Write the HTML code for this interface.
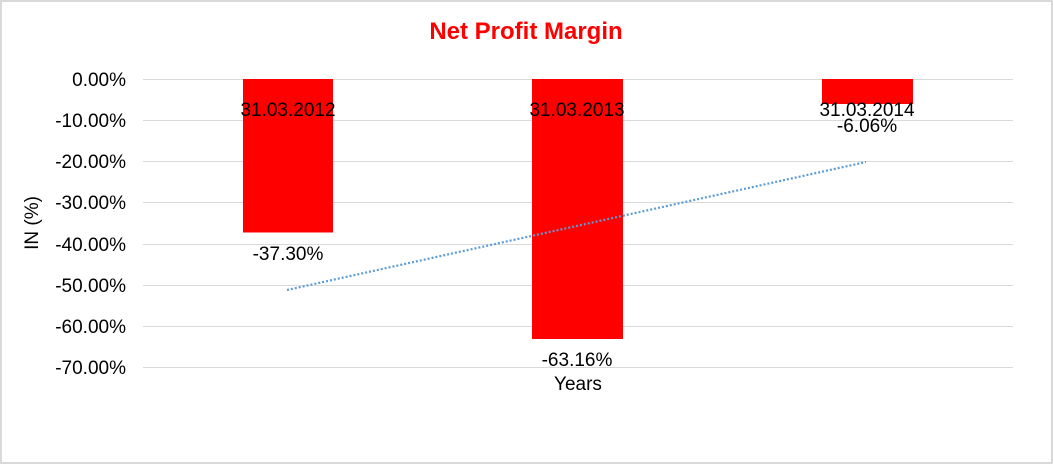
<!DOCTYPE html>
<html><head><style>
body{margin:0;background:#fff;}
svg text{font-family:"Liberation Sans",Arial,sans-serif;}
</style></head><body>
<svg width="1053" height="464" viewBox="0 0 1053 464" xmlns="http://www.w3.org/2000/svg">
<rect x="1" y="1" width="1051" height="462" fill="#fff" stroke="#d9d9d9" stroke-width="2"/>
<text x="526" y="39" text-anchor="middle" font-size="24" font-weight="bold" fill="#ff0000">Net Profit Margin</text>
<g stroke="#d9d9d9" stroke-width="1">
<line x1="143" x2="1013" y1="79.5" y2="79.5"/>
<line x1="143" x2="1013" y1="120.5" y2="120.5"/>
<line x1="143" x2="1013" y1="161.5" y2="161.5"/>
<line x1="143" x2="1013" y1="202.5" y2="202.5"/>
<line x1="143" x2="1013" y1="244.5" y2="244.5"/>
<line x1="143" x2="1013" y1="285.5" y2="285.5"/>
<line x1="143" x2="1013" y1="326.5" y2="326.5"/>
<line x1="143" x2="1013" y1="367.5" y2="367.5"/>
</g>
<g font-size="19" fill="#000" text-anchor="end">
<text x="126" y="86">0.00%</text>
<text x="126" y="127">-10.00%</text>
<text x="126" y="168">-20.00%</text>
<text x="126" y="209">-30.00%</text>
<text x="126" y="251">-40.00%</text>
<text x="126" y="292">-50.00%</text>
<text x="126" y="333">-60.00%</text>
<text x="126" y="374">-70.00%</text>
</g>
<text transform="translate(38,223) rotate(-90)" text-anchor="middle" font-size="19">IN (%)</text>
<g fill="#ff0000">
<rect x="243" y="79" width="90" height="153.5"/>
<rect x="532" y="79" width="91" height="260"/>
<rect x="822" y="79" width="91" height="25"/>
</g>
<line x1="287" y1="290" x2="866" y2="162" stroke="#5b9bd5" stroke-width="2.2" stroke-dasharray="2,2"/>
<g font-size="19" fill="#000" text-anchor="middle">
<text x="288" y="116">31.03.2012</text>
<text x="577" y="116">31.03.2013</text>
<text x="867" y="116">31.03.2014</text>
<text x="288" y="260">-37.30%</text>
<text x="577" y="366">-63.16%</text>
<text x="867" y="132">-6.06%</text>
<text x="578" y="390">Years</text>
</g>
</svg>
</body></html>
